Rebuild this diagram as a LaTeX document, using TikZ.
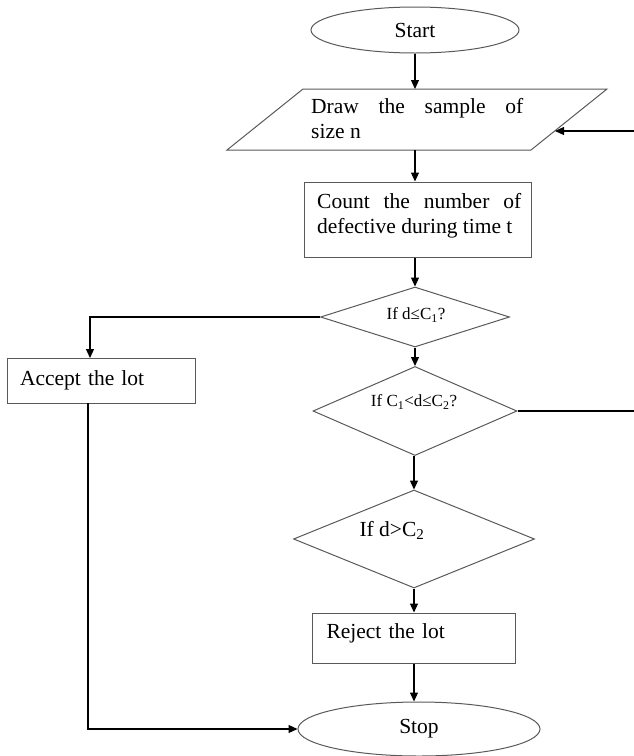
\documentclass[tikz,border=0pt]{standalone}
\usepackage{fontspec}
\setmainfont{Liberation Serif}
\usetikzlibrary{shapes.geometric,arrows.meta}
\begin{document}
\begin{tikzpicture}[x=1pt,y=-1pt,
  shp/.style={draw=black!65, line width=1pt},
  conn/.style={draw=black, line width=1.2pt, -{Triangle[length=9pt,width=8pt]}},
  plain/.style={draw=black, line width=1.2pt},
  bigtxt/.style={font=\fontsize{21.5}{25}\selectfont},
  smalltxt/.style={font=\fontsize{17}{20}\selectfont},
  oval/.style={shp, ellipse, inner sep=0pt},
  dia/.style={shp, diamond, inner sep=0pt},
  box/.style={shp, rectangle, inner sep=0pt}
]
\useasboundingbox (0,0) rectangle (634,756);

% Start
\node[oval, minimum width=208, minimum height=46, bigtxt] (start) at (415,30) {Start};

% Parallelogram (input)
\draw[shp] (303,89) -- (607,89) -- (531,150) -- (227,150) -- cycle;
\coordinate (ptop) at (415,89);
\coordinate (pbot) at (415,150);
\coordinate (pfb) at (555,131);
\coordinate (fbin) at (634,131);
\node[bigtxt, text width=212, align=justify, anchor=north west, inner sep=0pt] (draw) at (311,98)
  {Draw the sample of\linebreak size n};

% Count box
\node[box, minimum width=227, minimum height=75] (count) at (417.5,219.5) {};
\node[bigtxt, text width=204, align=justify, anchor=north west, inner sep=0pt] (countt) at (317,193)
  {Count the number of defective during time t};

% Decision 1
\node[dia, minimum width=189, minimum height=60] (d1) at (415,317) {};
\node[smalltxt, inner sep=0pt] (d1t) at (416,315) {If d≤C\textsubscript{1}?};

% Accept box
\node[box, minimum width=188, minimum height=45, bigtxt, inner xsep=13pt, text width=162, align=left] (accept) at (101,380.5) {Accept the lot};
\coordinate (acctop) at (90,358);
\coordinate (accbot) at (88,403);

% Decision 2
\node[dia, minimum width=204, minimum height=89] (d2) at (415,411) {};
\node[smalltxt, inner sep=0pt] (d2t) at (414,402) {If C\textsubscript{1}<d≤C\textsubscript{2}?};
\coordinate (d2out) at (634,411);

% Decision 3
\node[dia, minimum width=241, minimum height=98] (d3) at (414,539) {};
\node[bigtxt, inner sep=0pt] (d3t) at (392,530) {If d>C\textsubscript{2}};

% Reject box
\node[box, minimum width=203, minimum height=50, bigtxt, inner xsep=14pt, text width=175, align=left, text depth=14pt] (reject) at (414,638) {Reject the lot};

% Stop
\node[oval, minimum width=242, minimum height=54, bigtxt] (stop) at (419,729) {Stop};

% Connectors
\draw[conn] (start.south) -- (ptop);
\draw[conn] (pbot) -- (pbot |- count.north);
\draw[conn] (count.south -| d1.north) -- (d1.north);
\draw[conn] (fbin) -- (pfb);
\draw[conn] (d1.west) -| (acctop);
\draw[conn] (d1.south) -- (d2.north);
\draw[plain] (d2.east) -- (d2out);
\draw[conn] (d2.south -| d3.north) -- (d3.north);
\draw[conn] (d3.south) -- (d3.south |- reject.north);
\draw[conn] (reject.south) -- (reject.south |- stop.north);
\draw[conn] (accbot) |- (stop.west);
\end{tikzpicture}
\end{document}
